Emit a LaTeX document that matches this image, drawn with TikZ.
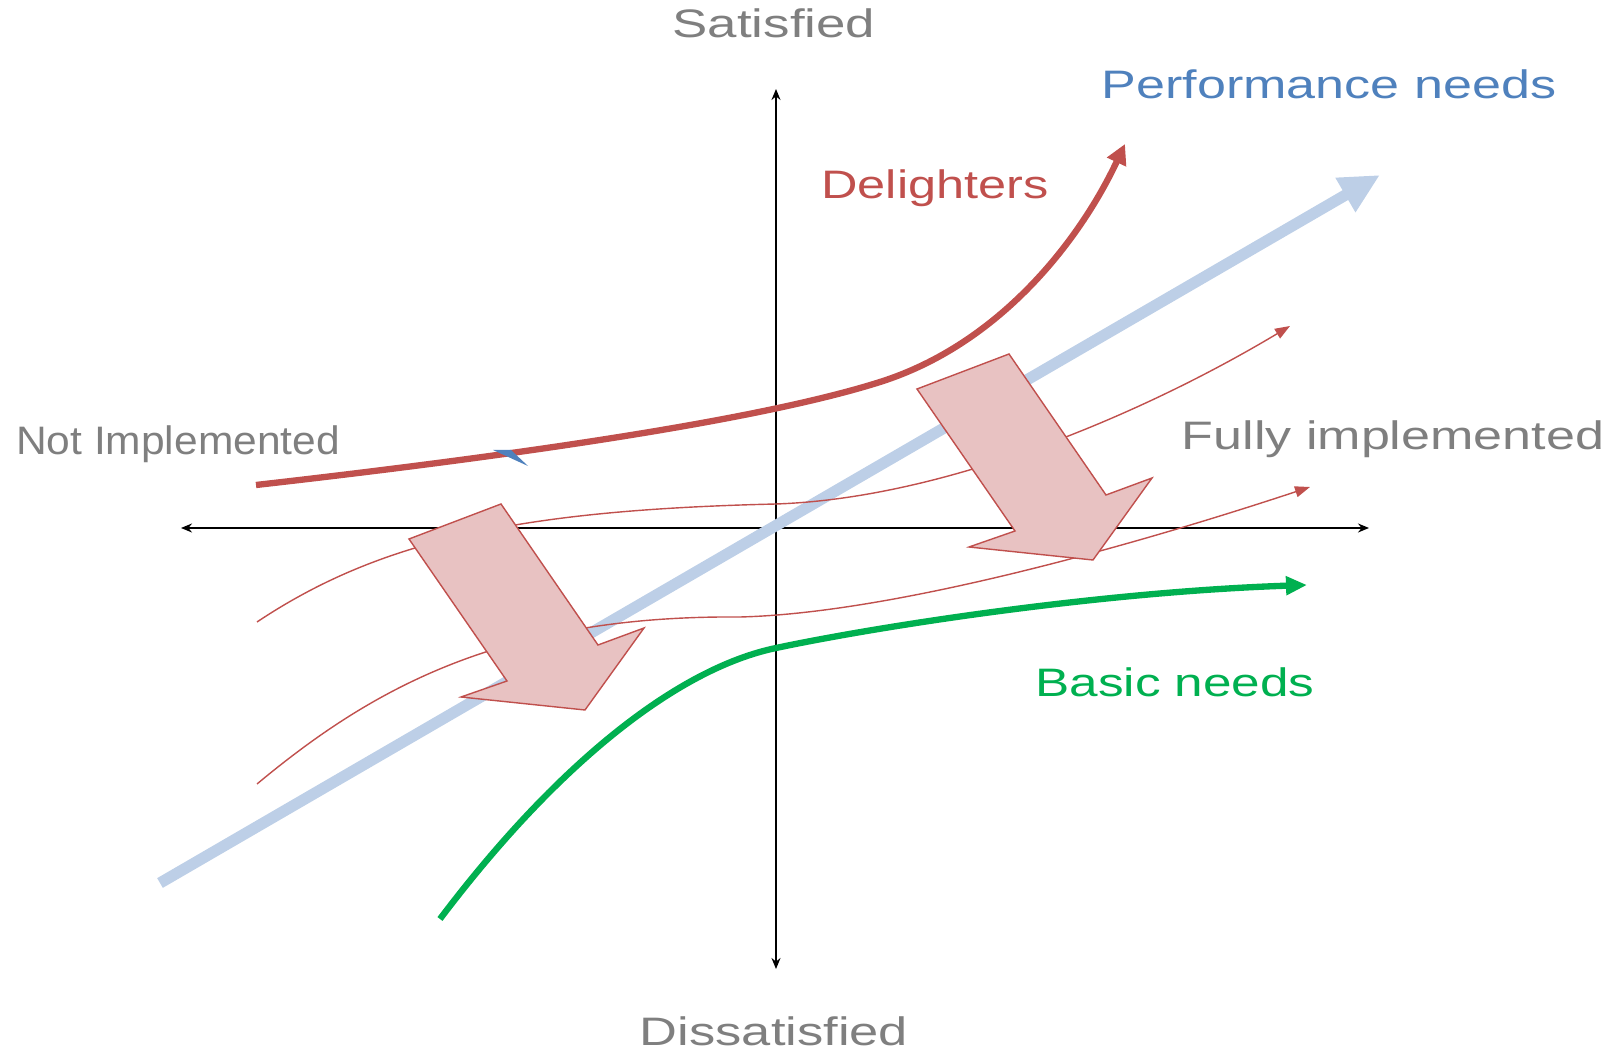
\documentclass[tikz,border=0pt]{standalone}
\usepackage{fontspec}
\setmainfont{Liberation Sans}
\usetikzlibrary{arrows.meta}
\definecolor{textgrey}{RGB}{127,127,127}
\definecolor{perfblue}{RGB}{79,129,189}
\definecolor{lightblue}{RGB}{189,207,231}
\definecolor{delightred}{RGB}{192,80,77}
\definecolor{basicgreen}{RGB}{0,176,80}
\definecolor{arrowpink}{RGB}{232,194,194}
\begin{document}
\begin{tikzpicture}[x=0.01cm,y=-0.01cm,
    lbl/.style={font=\fontsize{11.3}{13}\selectfont,inner sep=0pt,anchor=base},
    axisline/.style={line width=0.45pt,{Stealth[length=0.11cm,width=0.09cm]}-{Stealth[length=0.11cm,width=0.09cm]}},
    thincurve/.style={delightred,line width=0.4pt,-{Triangle[length=0.15cm,width=0.11cm]}},
    bigarrow/.style={fill=arrowpink,draw=delightred,line width=0.4pt,line join=miter}]
    \useasboundingbox (0,0) rectangle (1614,1052);
    % axes
    \coordinate (left) at (181,528);
    \coordinate (right) at (1369,528);
    \coordinate (top) at (776,89);
    \coordinate (bottom) at (776,969);
    \draw[axisline] (left) -- (right);
    \draw[axisline] (top) -- (bottom);
    % performance needs
    \coordinate (perfstart) at (160,883);
    \coordinate (perfend) at (1380,175);
    \draw[lightblue,line width=3.2pt,-{Triangle[length=0.4cm,width=0.37cm]}] (perfstart) -- (perfend);
    % shifting curves
    \draw[thincurve] (257,622) .. controls (380,540) and (520,510) .. (776,504)
        .. controls (950,498) and (1150,410) .. (1290,326);
    \draw[thincurve] (257,784) .. controls (370,690) and (500,615) .. (740,617)
        .. controls (900,613) and (1150,540) .. (1310,487);
    \foreach \dx/\dy in {0/0,508/-150}
        \filldraw[bigarrow,shift={(\dx,\dy)}] (409,539) -- (501,504) -- (598,645) -- (644,628)
            -- (585,710) -- (461,697) -- (507,681) -- cycle;
    % delighters
    \draw[delightred,line width=1.8pt,-{Triangle[length=0.2cm,width=0.2cm]}] (256,485)
        .. controls (520,455) and (760,420) .. (880,382)
        .. controls (1000,344) and (1080,240) .. (1125,144);
    \fill[perfblue] (493,450) -- (511,450) -- (528,466) -- cycle;
    % basic needs
    \draw[basicgreen,line width=1.8pt,-{Triangle[length=0.21cm,width=0.18cm]}] (440,919)
        .. controls (560,760) and (680,668) .. (776,648)
        .. controls (880,626) and (1100,592) .. (1307,585);
    % labels
    \node[lbl,textgrey] (satisfied) at (774,38) {\scalebox{1.33}[1]{Satisfied}};
    \node[lbl,textgrey] (dissatisfied) at (774,1045) {\scalebox{1.32}[1]{Dissatisfied}};
    \node[lbl,textgrey] (notimpl) at (178,455) {\scalebox{1.07}[1]{Not Implemented}};
    \node[lbl,textgrey] (fullyimpl) at (1393,450) {\scalebox{1.31}[1]{Fully implemented}};
    \node[lbl,perfblue] (performance) at (1329,99) {\scalebox{1.31}[1]{Performance needs}};
    \node[lbl,delightred] (delighters) at (935,199) {\scalebox{1.27}[1]{Delighters}};
    \node[lbl,basicgreen] (basic) at (1175,697) {\scalebox{1.29}[1]{Basic needs}};
\end{tikzpicture}
\end{document}
